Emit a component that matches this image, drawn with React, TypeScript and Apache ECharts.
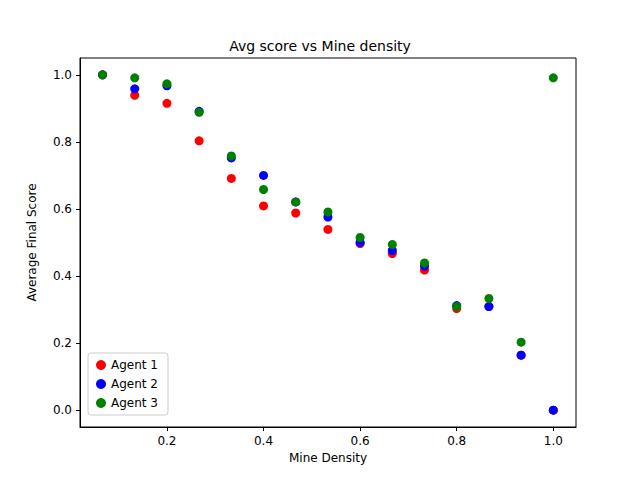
import { useRef, useEffect } from 'react';
import * as echarts from 'echarts';

const densities = [1, 2, 3, 4, 5, 6, 7, 8, 9, 10, 11, 12, 13, 14, 15].map((k) => k / 15);
const agent1 = [1.0, 0.939, 0.915, 0.803, 0.691, 0.609, 0.588, 0.539, 0.497, 0.467, 0.418, 0.303, 0.309, 0.164, 0.0];
const agent2 = [1.0, 0.958, 0.967, 0.891, 0.752, 0.7, 0.621, 0.576, 0.5, 0.476, 0.43, 0.312, 0.309, 0.164, 0.0];
const agent3 = [1.0, 0.991, 0.973, 0.888, 0.758, 0.658, 0.621, 0.591, 0.515, 0.494, 0.439, 0.309, 0.333, 0.203, 0.991];
const xTicks = [0.2, 0.4, 0.6, 0.8, 1.0];
const yTicks = [0.0, 0.2, 0.4, 0.6, 0.8, 1.0];

const font = 'DejaVu Sans';

const App = () => {
    const chartRef = useRef<HTMLDivElement>(null);

    useEffect(() => {
        if (!chartRef.current) return;
        const chart = echarts.init(chartRef.current, null, { renderer: 'svg' });
        const mk = (name: string, color: string, vals: number[]) => ({
            name,
            type: 'scatter',
            symbolSize: 9,
            itemStyle: { color, opacity: 1 },
            data: densities.map((d, i) => [d, vals[i]]),
        });
        chart.setOption({
            animation: false,
            textStyle: { fontFamily: font },
            title: {
                text: 'Avg score vs Mine density',
                left: 'center',
                top: 26,
                textStyle: { fontFamily: font, fontSize: 14, fontWeight: 'normal', color: '#000' },
            },
            grid: { left: 72, right: 56, top: 50, bottom: 45, show: true, borderColor: '#000', borderWidth: 1 },
            legend: {
                orient: 'vertical',
                left: 80,
                top: 345,
                itemWidth: 10,
                itemHeight: 10,
                itemGap: 7,
                padding: [6, 10, 6, 8],
                borderColor: '#ccc',
                borderWidth: 1,
                borderRadius: 3,
                backgroundColor: '#fff',
                textStyle: { fontFamily: font, fontSize: 12, color: '#000' },
                data: ['Agent 1', 'Agent 2', 'Agent 3'],
            },
            xAxis: {
                type: 'value',
                min: 0.02,
                max: 1.047,
                name: 'Mine Density',
                nameLocation: 'middle',
                nameGap: 24,
                nameTextStyle: { fontFamily: font, fontSize: 12, color: '#000' },
                splitLine: { show: false },
                axisLine: { onZero: false, lineStyle: { color: '#000' } },
                axisTick: { show: true, length: 4, lineStyle: { color: '#000' }, customValues: xTicks },
                axisLabel: {
                    color: '#000', fontSize: 12, fontFamily: font, customValues: xTicks,
                    formatter: (v: number) => v.toFixed(1),
                },
            },
            yAxis: {
                type: 'value',
                min: -0.05,
                max: 1.05,
                name: 'Average Final Score',
                nameLocation: 'middle',
                nameGap: 42,
                nameTextStyle: { fontFamily: font, fontSize: 12, color: '#000' },
                splitLine: { show: false },
                axisLine: { show: true, onZero: false, lineStyle: { color: '#000' } },
                axisTick: { show: true, length: 4, lineStyle: { color: '#000' }, customValues: yTicks },
                axisLabel: {
                    color: '#000', fontSize: 12, fontFamily: font, customValues: yTicks,
                    formatter: (v: number) => v.toFixed(1),
                },
            },
            series: [
                mk('Agent 1', '#ff0000', agent1),
                mk('Agent 2', '#0000ff', agent2),
                mk('Agent 3', '#008000', agent3),
            ],
        });
        return () => chart.dispose();
    }, []);

    return <div ref={chartRef} style={{ width: 624, height: 464 }} />;
};

export default App;
